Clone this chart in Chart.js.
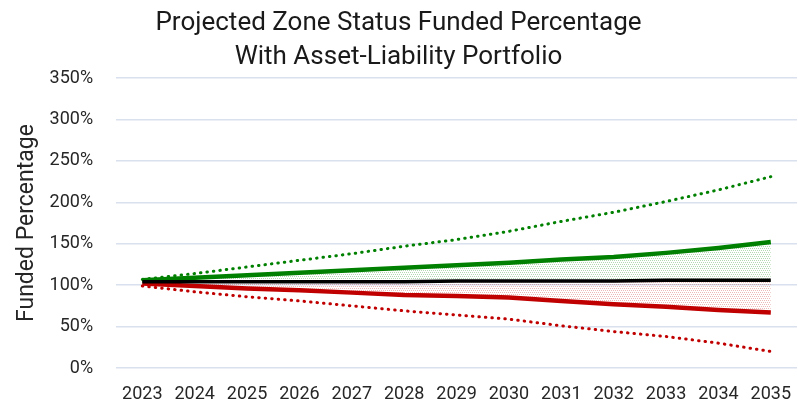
<!DOCTYPE html>
<html>
<head>
<meta charset="utf-8">
<script src="https://cdn.jsdelivr.net/npm/chart.js@4.4.0/dist/chart.umd.min.js"></script>
<style>
  html, body { margin: 0; padding: 0; background: #fff; }
  #wrap { width: 798px; height: 406px; }
</style>
</head>
<body>
<div id="wrap"><canvas id="zoneChart" width="798" height="406"></canvas></div>
<script>
// données (en %)
const years = ['2023','2024','2025','2026','2027','2028','2029','2030','2031','2032','2033','2034','2035'];
const median   = [104, 104, 104, 104, 104, 104, 105, 105, 105, 105, 106, 106, 106];
const upperMid = [106, 109, 112, 115, 118, 121, 124, 127, 131, 134, 139, 145, 152];
const lowerMid = [102,  99,  96,  94,  91,  88,  87,  85,  81,  77,  74,  70,  67];
const upperTail = [107, 114, 122, 130, 138, 147, 155, 165, 177, 188, 201, 215, 231];
const lowerTail = [ 99,  92,  86,  81,  75,  69,  64,  59,  51,  44,  38,  30,  20];

// petit motif pointillé pour les zones remplies
function makePattern(color) {
  const c = document.createElement('canvas');
  c.width = 4; c.height = 4;
  const g = c.getContext('2d');
  g.fillStyle = color;
  g.fillRect(0, 0, 1, 1);
  g.fillRect(2, 0, 1, 1);
  g.fillRect(1, 2, 1, 1);
  g.fillRect(3, 2, 1, 1);
  return g.createPattern(c, 'repeat');
}

// Chart.js compte le padding des ticks deux fois et ajoute une marge pour les étiquettes :
// on enlève tout ça pour placer la zone du graphique comme sur l'original
function fitX(scale) {
  scale.paddingTop = scale.paddingBottom = scale.paddingLeft = scale.paddingRight = 0;
  scale.height = 38;
}
function fitY(scale) {
  scale.paddingTop = scale.paddingBottom = scale.paddingLeft = scale.paddingRight = 0;
  scale.width -= scale.options.ticks.padding;
}

const green = '#008000';
const red = '#c00000';
const font = 'Roboto, "Open Sans", sans-serif';

const ctx = document.getElementById('zoneChart').getContext('2d');
new Chart(ctx, {
  type: 'line',
  data: {
    labels: years,
    datasets: [
      { label: 'Median', data: median, borderColor: '#000', borderWidth: 3.5, pointRadius: 0, fill: false },
      { label: 'Upper', data: upperMid, borderColor: green, borderWidth: 4.5, pointRadius: 0,
        fill: { target: 0 }, backgroundColor: makePattern('rgba(0,128,0,0.3)') },
      { label: 'Lower', data: lowerMid, borderColor: red, borderWidth: 4.5, pointRadius: 0,
        fill: { target: 0 }, backgroundColor: makePattern('rgba(192,0,0,0.28)') },
      { label: 'Upper tail', data: upperTail, borderColor: green, borderWidth: 3, pointRadius: 0,
        borderDash: [0.5, 6], borderCapStyle: 'round', fill: false },
      { label: 'Lower tail', data: lowerTail, borderColor: red, borderWidth: 3, pointRadius: 0,
        borderDash: [0.5, 6], borderCapStyle: 'round', fill: false }
    ]
  },
  options: {
    responsive: false,
    animation: false,
    layout: { padding: { left: 0, right: 1, top: 0, bottom: 0 } },
    scales: {
      x: {
        offset: true,
        grid: { display: false, drawTicks: false },
        border: { display: false },
        ticks: { color: '#262626', font: { family: font, size: 18 }, padding: 16, maxRotation: 0 },
        afterFit: fitX
      },
      y: {
        min: 0, max: 350,
        ticks: { stepSize: 50, color: '#262626', font: { family: font, size: 18 }, padding: 23,
                 callback: v => v + '%' },
        grid: { color: '#d9e1ee', lineWidth: 1.5, drawTicks: false },
        border: { display: false },
        title: { display: true, text: 'Funded Percentage', color: '#262626',
                 font: { family: font, size: 23 }, padding: { top: 13, bottom: 9 } },
        afterFit: fitY
      }
    },
    plugins: {
      legend: { display: false },
      tooltip: { enabled: false },
      title: {
        display: true,
        text: ['Projected Zone Status Funded Percentage', 'With Asset-Liability Portfolio'],
        color: '#1a1a1a',
        font: { family: font, size: 26, weight: 'normal', lineHeight: 1.3 },
        padding: { top: 6.5, bottom: 4 }
      }
    }
  }
});
</script>
</body>
</html>
